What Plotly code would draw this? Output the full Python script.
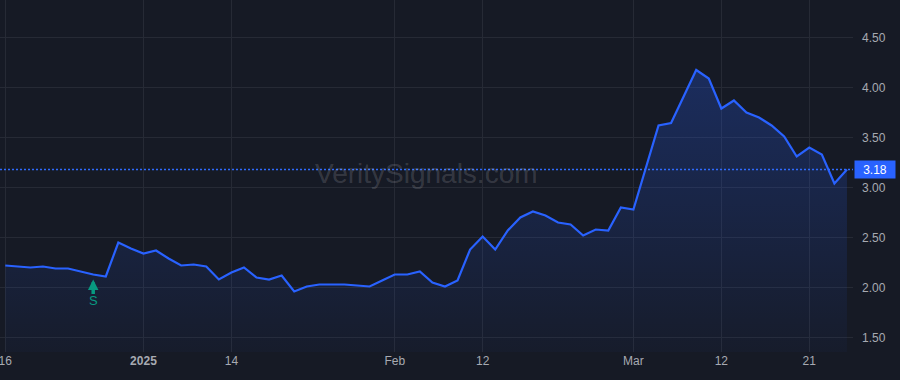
import pandas as pd
import plotly.graph_objects as go

# ---------------- data ----------------
market_holidays = ["2024-12-25", "2025-01-01", "2025-01-09", "2025-01-20", "2025-02-17"]
dates = [d.strftime("%Y-%m-%d") for d in
         pd.bdate_range("2024-12-16", "2025-03-26", freq="C", holidays=market_holidays)]

prices = [
    2.22, 2.21, 2.20, 2.21, 2.19, 2.19, 2.16, 2.13, 2.11, 2.45,
    2.39, 2.34, 2.37, 2.29, 2.22, 2.23, 2.21, 2.08, 2.15, 2.20,
    2.10, 2.08, 2.12, 1.96, 2.01, 2.03, 2.03, 2.03, 2.02, 2.01,
    2.07, 2.13, 2.13, 2.16, 2.05, 2.01, 2.07, 2.38, 2.51, 2.38,
    2.57, 2.70, 2.76, 2.72, 2.65, 2.63, 2.52, 2.58, 2.57, 2.80,
    2.78, 3.20, 3.62, 3.645, 3.91, 4.175, 4.09, 3.79, 3.87, 3.75,
    3.70, 3.62, 3.51, 3.31, 3.40, 3.33, 3.04, 3.18,
]
assert len(dates) == len(prices)

tick_dates = ["2024-12-16", "2025-01-02", "2025-01-14", "2025-02-03",
              "2025-02-12", "2025-03-03", "2025-03-12", "2025-03-21"]
tick_labels = ["16", "<b>2025</b>", "14", "Feb", "12", "Mar", "12", "21"]
y_ticks = [1.5, 2.0, 2.5, 3.0, 3.5, 4.0, 4.5]

signal_date = "2024-12-26"
signal_label = "S"
watermark = "VeritySignals.com"
last_price = prices[-1]

# ---------------- style ----------------
BG = "#161a25"
GRID = "#262a35"
LINE = "#2962ff"
TXT = "#a7aab2"
GREEN = "#089981"
FONT = "Liberation Sans, Arial, sans-serif"
y_range = [1.355, 4.875]
x_range = [-0.42, len(dates) - 1 + 0.48]

fig = go.Figure()
fig.add_trace(go.Scatter(
    x=dates, y=prices, mode="lines",
    line=dict(color=LINE, width=2.2),
    fill="tozeroy",
    fillgradient=dict(type="vertical",
                      colorscale=[[0, "rgba(41,98,255,0.03)"], [1, "rgba(41,98,255,0.26)"]],
                      start=y_range[0], stop=max(prices)),
    hoverinfo="skip", showlegend=False,
))

# last price dotted line
fig.add_shape(type="line", xref="paper", x0=0, x1=1, yref="y", y0=last_price, y1=last_price,
              line=dict(color="#2f6bff", width=1.6, dash="2px,2px"))

# last price label
fig.add_annotation(xref="paper", x=1, yref="y", y=last_price, xanchor="left", yanchor="middle",
                   xshift=1, text=f"{last_price:.2f}", showarrow=False,
                   bgcolor=LINE, font=dict(color="white", size=12, family=FONT),
                   width=38, height=15, borderpad=1)

# signal marker (block arrow)
sig_val = prices[dates.index(signal_date)]
fig.add_annotation(x=signal_date, y=sig_val, xref="x", yref="y", text="", showarrow=True,
                   ax=0, ay=15, axref="pixel", ayref="pixel", yshift=-5,
                   font=dict(size=1), borderpad=0,
                   arrowhead=2, arrowsize=0.6, arrowwidth=3.5, arrowcolor=GREEN, standoff=0)
fig.add_annotation(x=signal_date, y=sig_val, xref="x", yref="y", text=signal_label,
                   showarrow=False, yshift=-26, font=dict(color=GREEN, size=13, family=FONT))

# watermark
fig.add_annotation(xref="paper", yref="paper", x=0.5, y=0.5, text=watermark, showarrow=False,
                   yshift=3, font=dict(color="rgba(255,255,255,0.15)", size=28, family=FONT))

fig.update_layout(
    width=900, height=380,
    margin=dict(l=0, r=47, t=0, b=28),
    paper_bgcolor=BG, plot_bgcolor=BG,
    hovermode=False,
    font=dict(family=FONT, color=TXT, size=12),
    xaxis=dict(type="category", range=x_range, tickmode="array",
               tickvals=tick_dates, ticktext=tick_labels,
               showgrid=True, gridcolor=GRID, gridwidth=1,
               zeroline=False, showline=False, ticks="",
               tickfont=dict(color=TXT, size=12)),
    yaxis=dict(side="right", range=y_range, tickmode="array", tickvals=y_ticks,
               tickformat=".2f", showgrid=True, gridcolor=GRID, gridwidth=1,
               zeroline=False, showline=False, ticks="",
               ticklabelstandoff=8,
               tickfont=dict(color=TXT, size=12)),
)

fig.write_html("out.html")
